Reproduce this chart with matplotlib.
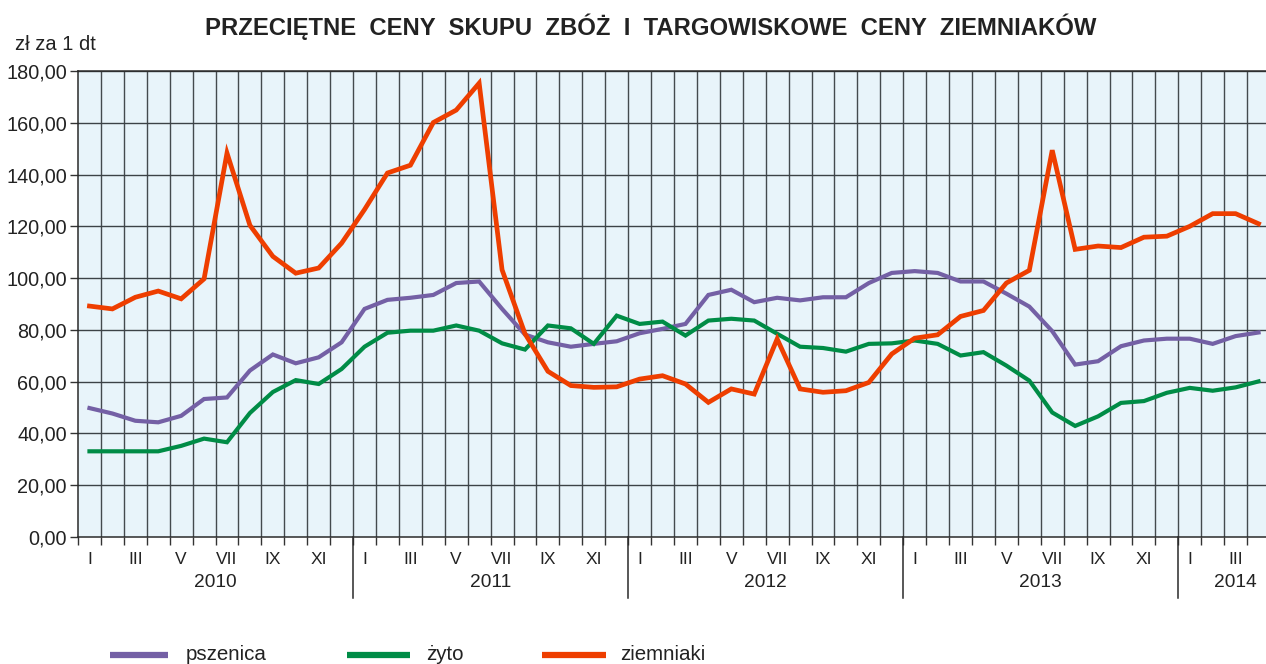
import matplotlib
matplotlib.use("Agg")
import matplotlib.pyplot as plt
from matplotlib.lines import Line2D
import matplotlib.transforms as mtransforms

plt.rcParams['font.family'] = ['Liberation Sans', 'DejaVu Sans']

years = ["2010", "2011", "2012", "2013", "2014"]
months_per_year = [12, 12, 12, 12, 4]
month_names = ["I", "", "III", "", "V", "", "VII", "", "IX", "", "XI", ""]

pszenica = [49.8, 47.7, 44.9, 44.3, 46.8, 53.3, 53.9, 64.3, 70.5, 67.1, 69.4, 75.2,
            88.1, 91.6, 92.4, 93.5, 98.1, 98.7, 88.1, 78.2, 75.2, 73.5, 74.6, 75.6,
            78.7, 80.4, 82.3, 93.5, 95.5, 90.7, 92.4, 91.4, 92.6, 92.6, 98.1, 102.0,
            102.7, 102.0, 98.7, 98.7, 94.0, 89.0, 79.5, 66.6, 67.9, 73.7, 75.9, 76.6,
            76.6, 74.6, 77.6, 79.0]
zyto = [33.1, 33.1, 33.1, 33.1, 35.2, 38.0, 36.6, 47.9, 56.0, 60.6, 59.1, 64.9,
        73.5, 78.9, 79.7, 79.7, 81.7, 79.7, 74.8, 72.4, 81.7, 80.6, 74.6, 85.5,
        82.3, 83.2, 77.8, 83.6, 84.3, 83.6, 78.5, 73.5, 73.0, 71.6, 74.6, 74.8,
        75.9, 74.6, 70.1, 71.4, 66.2, 60.4, 48.1, 42.9, 46.6, 51.8, 52.5, 55.7,
        57.6, 56.5, 57.8, 60.1]
ziemniaki = [89.2, 88.1, 92.6, 95.0, 92.0, 99.7, 148.3, 120.4, 108.4, 101.9, 103.9, 113.5,
             126.5, 140.6, 143.6, 160.1, 164.9, 175.3, 103.2, 78.5, 64.0, 58.5, 57.8, 58.0,
             61.0, 62.3, 59.1, 52.0, 57.2, 55.2, 76.5, 57.2, 55.9, 56.5, 59.7, 70.7,
             76.8, 78.1, 85.2, 87.5, 98.1, 103.0, 149.4, 111.1, 112.4, 111.8, 115.8, 116.2,
             120.0, 124.9, 124.9, 121.0]
series_names = ["pszenica", "żyto", "ziemniaki"]
series_colors = ["#7460A5", "#008C46", "#EE3E00"]
y_ticks = list(range(0, 181, 20))

W, H = 1266, 664
fig = plt.figure(figsize=(W / 100, H / 100), dpi=100)
left, top, bottom, right = 78, 71, 537, 1270
ax = fig.add_axes([left / W, 1 - bottom / H, (right - left) / W, (bottom - top) / H])
ax.set_facecolor("#E8F4FA")

n = sum(months_per_year)
xs = [i + 0.5 for i in range(n)]

# grid
for b in range(1, n):
    ax.axvline(b, color="#444a4e", lw=1.0, zorder=1)
for yv in y_ticks[1:]:
    ax.axhline(yv, color="#3c4246", lw=1.0, zorder=1)

lws = [3.0, 3.0, 3.4]
for vals, c, lw in zip([pszenica, zyto, ziemniaki], series_colors, lws):
    ax.plot(xs, vals, color=c, lw=lw, solid_joinstyle="miter", zorder=3)

ax.set_xlim(0, n)
ax.set_ylim(0, 180)
ax.set_yticks(y_ticks)
ax.set_yticklabels([f"{v:.2f}".replace(".", ",") for v in y_ticks], fontsize=14.3, color="#222222")
ax.tick_params(axis="y", direction="out", length=6, width=1, color="#333333", pad=2)

ax.set_xticks(range(0, n + 1))
ax.set_xticklabels([])
ax.tick_params(axis="x", which="major", direction="out", length=6, width=1, color="#333333")

minor_pos, minor_lab = [], []
start = 0
for y, m in zip(years, months_per_year):
    for k in range(m):
        minor_pos.append(start + k + 0.5)
        minor_lab.append(month_names[k])
    start += m
ax.set_xticks(minor_pos, minor=True)
ax.set_xticklabels(minor_lab, minor=True, fontsize=12.5, color="#222222")
ax.tick_params(axis="x", which="minor", length=0, pad=11)

for s in ["left", "bottom", "top"]:
    ax.spines[s].set_color("#2a2a2a")
    ax.spines[s].set_linewidth(1.1)
ax.spines["right"].set_visible(False)

# year separators and labels
trans = mtransforms.blended_transform_factory(ax.transData, ax.transAxes)
start = 0
for i, (y, m) in enumerate(zip(years, months_per_year)):
    if i > 0:
        ax.plot([start, start], [0, -0.131], transform=trans, color="#2a2a2a", lw=1.1, clip_on=False)
    cx = start + m / 2 if m == 12 else start + 2.5
    ax.text(cx, -0.097, y, transform=trans, ha="center", va="center", fontsize=13.8, color="#222222")
    start += m

fig.text(651 / W, 1 - 27 / H, "PRZECIĘTNE  CENY  SKUPU  ZBÓŻ  I  TARGOWISKOWE  CENY  ZIEMNIAKÓW",
         ha="center", va="center", fontsize=17.2, fontweight="bold", color="#222222")
fig.text(15 / W, 1 - 44 / H, "zł za 1 dt", ha="left", va="center", fontsize=14.5, color="#222222")

# legend
leg_y = 1 - 655 / H
leg_lines = [(110, 168, 186), (347, 410, 426), (542, 606, 620)]
for (x0, x1, xt), name, c in zip(leg_lines, series_names, series_colors):
    fig.add_artist(Line2D([x0 / W, x1 / W], [leg_y, leg_y], transform=fig.transFigure,
                          color=c, lw=4.5, solid_capstyle="butt"))
    fig.text(xt / W, leg_y, name, ha="left", va="center", fontsize=14.8, color="#222222")

fig.savefig("out.png", dpi=100)
